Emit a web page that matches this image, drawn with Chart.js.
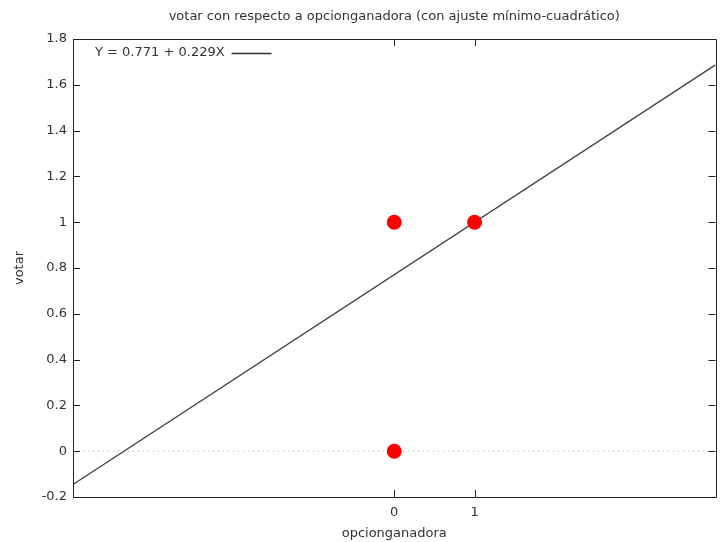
<!DOCTYPE html>
<html>
<head>
<meta charset="utf-8">
<script src="https://cdn.jsdelivr.net/npm/chart.js@4/dist/chart.umd.min.js"></script>
<style>
  html, body { margin: 0; padding: 0; background: #fff; }
  #wrap { width: 723px; height: 542px; }
</style>
</head>
<body>
<div id="wrap"><canvas id="c" width="723" height="542"></canvas></div>
<script>
// Observations: opcionganadora (x) against votar (y)
const xValues = [0, 1, 0];
const yValues = [1, 1, 0];

// Least-squares fit coefficients
const intercept = 0.771;
const slope = 0.229;

// Axis ranges and tick positions
const xRange = [-4, 4];
const xTicks = [0, 1];
const yTicks = [-0.2, 0, 0.2, 0.4, 0.6, 0.8, 1, 1.2, 1.4, 1.6, 1.8];

const titleText = 'votar con respecto a opcionganadora (con ajuste mínimo-cuadrático)';
const legendText = 'Y = 0.771 + 0.229X';
const xLabel = 'opcionganadora';
const yLabel = 'votar';

const FONT = 'DejaVu Sans';
const FS = 13;
const TEXT = '#333333';

const points = xValues.map((x, i) => ({ x: x, y: yValues[i] }));
const fitLine = xRange.map(x => ({ x: x, y: intercept + slope * x }));
const zeroLine = xRange.map(x => ({ x: x, y: 0 }));

// Title centred over the plot, frame, inward tick marks, and the key
const framePlugin = {
  id: 'frame',
  afterDatasetsDraw(chart) {
    const { ctx, chartArea: a, scales } = chart;
    const xs = scales.x, ys = scales.y;
    const tl = 7;
    ctx.save();

    ctx.font = FS + 'px "' + FONT + '"';
    ctx.fillStyle = TEXT;
    ctx.textAlign = 'center';
    ctx.textBaseline = 'middle';
    ctx.fillText(titleText, (a.left + a.right) / 2, 17);

    ctx.strokeStyle = '#222';
    ctx.lineWidth = 1;
    ctx.beginPath();
    ctx.rect(Math.round(a.left) + 0.5, Math.round(a.top) + 0.5,
             Math.round(a.right - a.left), Math.round(a.bottom - a.top));
    ctx.stroke();
    ctx.beginPath();
    yTicks.forEach(v => {
      const py = Math.round(ys.getPixelForValue(v)) + 0.5;
      ctx.moveTo(a.left, py); ctx.lineTo(a.left + tl, py);
      ctx.moveTo(a.right, py); ctx.lineTo(a.right - tl, py);
    });
    xTicks.forEach(v => {
      const px = Math.round(xs.getPixelForValue(v)) + 0.5;
      ctx.moveTo(px, a.bottom); ctx.lineTo(px, a.bottom - tl);
      ctx.moveTo(px, a.top); ctx.lineTo(px, a.top + tl);
    });
    ctx.stroke();

    // key
    ctx.textAlign = 'left';
    const ky = a.top + 14;
    ctx.fillText(legendText, a.left + 22, ky);
    const w = ctx.measureText(legendText).width;
    ctx.strokeStyle = '#333333';
    ctx.lineWidth = 1.5;
    ctx.beginPath();
    const ly = Math.round(ky) + 0.5;
    ctx.moveTo(a.left + 22 + w + 7, ly);
    ctx.lineTo(a.left + 22 + w + 47, ly);
    ctx.stroke();
    ctx.restore();
  }
};

new Chart(document.getElementById('c'), {
  type: 'scatter',
  data: {
    datasets: [
      {
        type: 'line',
        data: zeroLine,
        borderColor: '#aaaaaa',
        borderWidth: 1,
        borderDash: [1, 4],
        pointRadius: 0,
        order: 3
      },
      {
        type: 'line',
        data: fitLine,
        borderColor: '#404040',
        borderWidth: 1.3,
        pointRadius: 0,
        order: 2
      },
      {
        data: points,
        backgroundColor: '#ff0000',
        borderColor: '#ff0000',
        borderWidth: 0,
        pointRadius: 7.5,
        order: 1
      }
    ]
  },
  options: {
    responsive: false,
    animation: false,
    devicePixelRatio: 1,
    layout: { padding: { left: 0, right: 7, top: 39, bottom: 0 } },
    plugins: {
      legend: { display: false },
      tooltip: { enabled: false },
      title: { display: false }
    },
    scales: {
      x: {
        type: 'linear',
        min: xRange[0],
        max: xRange[1],
        afterBuildTicks: s => { s.ticks = xTicks.map(v => ({ value: v })); },
        afterFit: s => { s.height = 45; },
        grid: { display: false, drawTicks: false },
        border: { display: false },
        ticks: {
          color: TEXT,
          padding: 8,
          maxRotation: 0,
          font: { family: FONT, size: FS },
          callback: v => String(v)
        },
        title: {
          display: true,
          text: xLabel,
          color: TEXT,
          font: { family: FONT, size: FS },
          padding: { top: 0, bottom: 1 }
        }
      },
      y: {
        type: 'linear',
        min: yTicks[0],
        max: yTicks[yTicks.length - 1],
        afterBuildTicks: s => { s.ticks = yTicks.map(v => ({ value: v })); },
        afterFit: s => { s.width = 73; },
        grid: { display: false, drawTicks: false },
        border: { display: false },
        ticks: {
          color: TEXT,
          padding: 6,
          font: { family: FONT, size: FS },
          callback: v => String(parseFloat(v.toFixed(1)))
        },
        title: {
          display: true,
          text: yLabel,
          color: TEXT,
          font: { family: FONT, size: FS },
          padding: { top: 12, bottom: 0 }
        }
      }
    }
  },
  plugins: [framePlugin]
});
</script>
</body>
</html>
